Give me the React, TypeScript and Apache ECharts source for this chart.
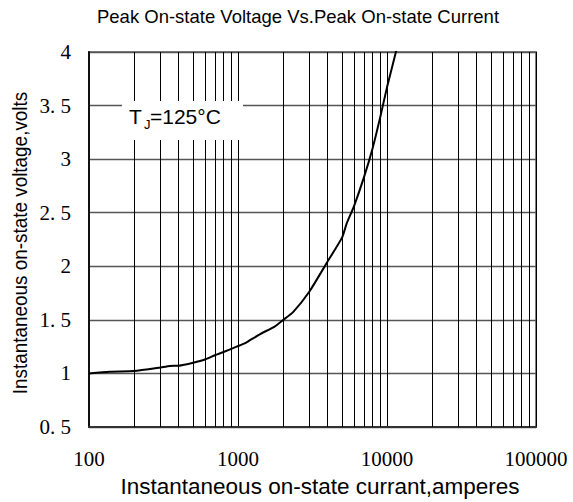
import React, { useEffect, useRef } from "react";
import * as echarts from "echarts";

// ---- data ----
const currents: number[] = [100, 138, 200, 295, 350, 400, 500, 600, 700, 800, 980, 1110, 1204, 1400, 1772, 2000, 2350, 3000, 3975, 5000, 5365, 6000, 7000, 8000, 9000, 10000, 11430, 11700];
const voltages: number[] = [1.0, 1.016, 1.022, 1.053, 1.07, 1.072, 1.1, 1.13, 1.17, 1.2, 1.25, 1.28, 1.31, 1.365, 1.44, 1.497, 1.575, 1.76, 2.04, 2.27, 2.4, 2.56, 2.83, 3.1, 3.39, 3.67, 3.99, 4.05];

const xTickValues: number[] = [100, 1000, 10000, 100000];
const xTickLabels: string[] = ["100", "1000", "10000", "100000"];
const yTickLabels: string[] = ["0. 5", "1", "1. 5", "2", "2. 5", "3", "3. 5", "4"];
const minorGridCurrents: number[] = [
  200, 300, 400, 500, 600, 700, 800, 900,
  2000, 3000, 4000, 5000, 6000, 7000, 8000, 9000,
  20000, 30000, 40000, 50000, 60000, 70000, 80000, 90000,
];

const titleText = "Peak On-state Voltage Vs.Peak On-state Current";
const xName = "Instantaneous on-state currant,amperes";
const yName = "Instantaneous on-state voltage,volts";

export default function App() {
  const ref = useRef<HTMLDivElement>(null);

  useEffect(() => {
    if (!ref.current) return;
    const chart = echarts.init(ref.current, undefined, { renderer: "svg" });
    const sans = "'Liberation Sans', Arial, sans-serif";
    const serif = "'Liberation Serif', 'Times New Roman', serif";

    chart.setOption({
      animation: false,
      backgroundColor: "#fff",
      grid: {
        left: 89,
        right: 37,
        top: 52,
        bottom: 75,
        show: true,
        borderColor: "#808080",
        borderWidth: 2,
        backgroundColor: "transparent",
      },
      xAxis: {
        type: "log",
        logBase: 10,
        min: 100,
        max: 100000,
        axisLine: { show: true, onZero: false, lineStyle: { color: "#333", width: 2 } },
        axisTick: { show: false },
        axisLabel: {
          margin: 21,
          fontFamily: serif,
          fontSize: 21,
          color: "#000",
          formatter: (v: number) => {
            const i = xTickValues.findIndex((t) => Math.abs(Math.log10(t) - Math.log10(v)) < 1e-6);
            return i >= 0 ? xTickLabels[i] : "";
          },
        },
        splitLine: { show: true, lineStyle: { color: "#000", width: 1 } },
      },
      yAxis: {
        type: "value",
        min: 0.5,
        max: 4,
        interval: 0.5,
        axisLine: { show: true, lineStyle: { color: "#111", width: 2 } },
        axisTick: { show: false },
        axisLabel: {
          margin: 18,
          fontFamily: serif,
          fontSize: 21,
          color: "#000",
          formatter: (v: number) => {
            const i = Math.round((v - 0.5) / 0.5);
            return yTickLabels[i] ?? "";
          },
        },
        splitLine: { show: true, lineStyle: { color: "#555", width: 1.3 } },
      },
      series: [
        {
          type: "line",
          data: currents.map((c, i) => [c, voltages[i]]),
          showSymbol: false,
          symbol: "none",
          smooth: 0.2,
          clip: true,
          lineStyle: { color: "#000", width: 2 },
          z: 5,
          markLine: {
            silent: true,
            symbol: ["none", "none"],
            label: { show: false },
            emphasis: { disabled: true },
            lineStyle: { color: "#000", width: 1, type: "solid" },
            data: minorGridCurrents.map((v) => ({ xAxis: v })),
            z: 1,
          },
        },
      ],
      graphic: [
        {
          type: "text",
          x: 298,
          y: 16,
          z: 100,
          style: {
            text: titleText,
            fontFamily: sans,
            fontSize: 18.5,
            fill: "#000",
            textAlign: "center",
            textVerticalAlign: "middle",
          },
        },
        {
          type: "text",
          x: 320,
          y: 486,
          z: 100,
          style: {
            text: xName,
            fontFamily: sans,
            fontSize: 22.5,
            fill: "#000",
            textAlign: "center",
            textVerticalAlign: "middle",
          },
        },
        {
          type: "text",
          x: 19.5,
          y: 243,
          rotation: Math.PI / 2,
          scaleX: 0.9,
          z: 100,
          style: {
            text: yName,
            fontFamily: sans,
            fontSize: 21,
            fill: "#000",
            textAlign: "center",
            textVerticalAlign: "middle",
          },
        },
        {
          type: "rect",
          z: 100,
          shape: { x: 122, y: 101, width: 121, height: 39 },
          style: { fill: "#fff" },
        },
        {
          type: "text",
          x: 129,
          y: 116,
          z: 101,
          style: {
            text: "T",
            fontFamily: sans,
            fontSize: 21,
            fill: "#000",
            textAlign: "left",
            textVerticalAlign: "middle",
          },
        },
        {
          type: "text",
          x: 144,
          y: 124.5,
          z: 101,
          style: {
            text: "J",
            fontFamily: sans,
            fontSize: 13,
            fill: "#000",
            textAlign: "left",
            textVerticalAlign: "middle",
          },
        },
        {
          type: "text",
          x: 150,
          y: 116,
          z: 101,
          style: {
            text: "=125°C",
            fontFamily: sans,
            fontSize: 21,
            fill: "#000",
            textAlign: "left",
            textVerticalAlign: "middle",
          },
        },
      ],
    });

    return () => chart.dispose();
  }, []);

  return (
    <div
      ref={ref}
      style={{ position: "absolute", left: 0, top: 0, width: 573, height: 502, background: "#fff" }}
    />
  );
}
